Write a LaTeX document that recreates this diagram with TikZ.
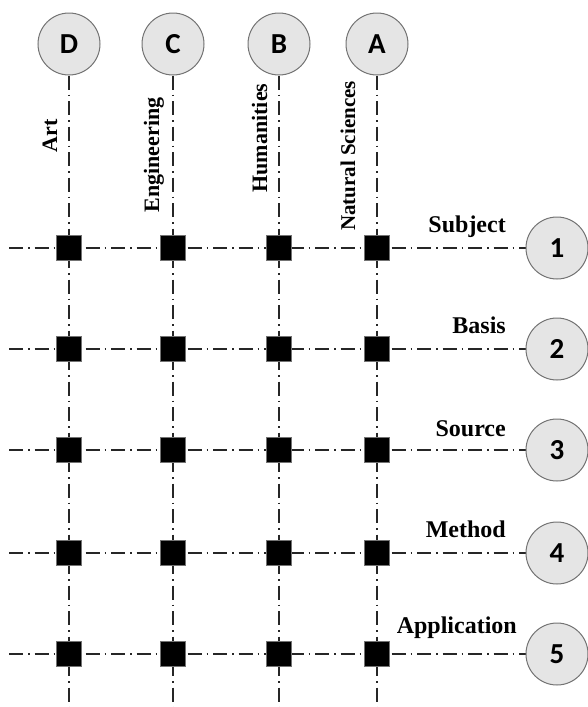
\documentclass[tikz,border=0pt]{standalone}
\usepackage{fontspec}
\setmainfont{Liberation Serif}
\newfontfamily\circfont{Carlito}
\usetikzlibrary{backgrounds}
\begin{document}
\begin{tikzpicture}[x=1pt,y=-1pt,
 circ/.style={circle,draw=black!55,line width=1pt,fill=black!10,minimum size=62pt,inner sep=0pt,font=\circfont\bfseries\fontsize{29}{29}\selectfont},
 sq/.style={rectangle,draw=black!55,line width=1.2pt,fill=black,minimum size=25pt,inner sep=0pt},
 gridline/.style={line width=1.1pt,black!85,dash pattern=on 14pt off 5pt on 1.5pt off 5pt},
 vlab/.style={rotate=90,anchor=base,font=\bfseries\fontsize{22}{22}\selectfont,inner sep=0pt},
 hlab/.style={anchor=base east,font=\bfseries\fontsize{24}{24}\selectfont,inner sep=0pt}]
\useasboundingbox (0,0) rectangle (588,707);
\foreach \n/\x in {D/69,C/173,B/279,A/377} {
  \node[circ] (c\n) at (\x,44) {\n};
  \coordinate (b\n) at (\x,707);
}
\foreach \n/\y in {1/248,2/349,3/450,4/553,5/654} {
  \node[circ] (r\n) at (557,\y) {\n};
  \coordinate (l\n) at (9,\y);
}
\foreach \c in {D,C,B,A} {
  \foreach \r in {1,...,5} {
    \node[sq] (s\c\r) at (c\c |- r\r) {};
  }
}
\begin{scope}[on background layer]
\foreach \c in {D,C,B,A} \draw[gridline] (c\c) -- (b\c);
\foreach \r in {1,...,5} \draw[gridline] (l\r) -- (r\r);
\end{scope}
\node[vlab] (tArt) at (57,136) {Art};
\node[vlab] (tEng) at (159,155) {Engineering};
\node[vlab] (tHum) at (267,138) {Humanities};
\node[vlab,font=\bfseries\fontsize{21}{21}\selectfont] (tNat) at (355,156) {Natural Sciences};
\node[hlab] (tSub) at (506,232) {Subject};
\node[hlab] (tBas) at (506,333) {Basis};
\node[hlab] (tSou) at (506,436) {Source};
\node[hlab] (tMet) at (506,537) {Method};
\node[hlab] (tApp) at (517,633) {Application};
\end{tikzpicture}
\end{document}
